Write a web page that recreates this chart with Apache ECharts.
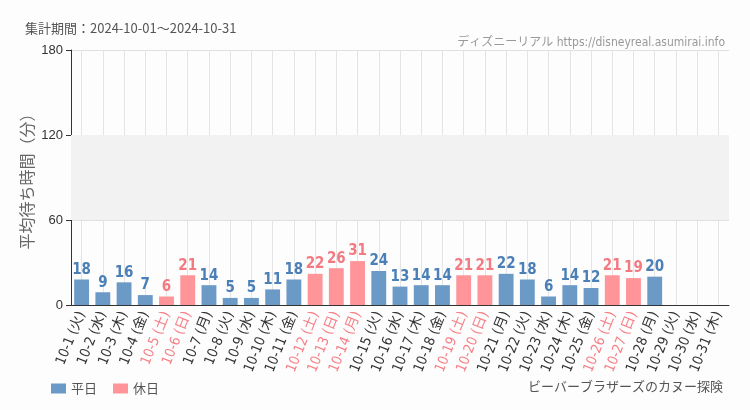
<!DOCTYPE html>
<html><head><meta charset="utf-8">
<script src="https://cdn.jsdelivr.net/npm/echarts@6/dist/echarts.min.js"></script>
<style>html,body{margin:0;padding:0;background:#fcfdfc}#c{width:750px;height:410px}</style>
</head><body><div id="c"></div>
<script>
const days = ["10-1","10-2","10-3","10-4","10-5","10-6","10-7","10-8","10-9","10-10","10-11","10-12","10-13","10-14","10-15","10-16","10-17","10-18","10-19","10-20","10-21","10-22","10-23","10-24","10-25","10-26","10-27","10-28","10-29","10-30","10-31"];
const weekdays = ["火","水","木","金","土","日","月","火","水","木","金","土","日","月","火","水","木","金","土","日","月","火","水","木","金","土","日","月","火","水","木"];
const holiday = [0,0,0,0,1,1,0,0,0,0,0,1,1,1,0,0,0,0,1,1,0,0,0,0,0,1,1,0,0,0,0];
const waits = [18,9,16,7,6,21,14,5,5,11,18,22,26,31,24,13,14,14,21,21,22,18,6,14,12,21,19,20,null,null,null];
const yTicks = [0,60,120,180];

const cats = days.map((d,i)=>d+' ('+weekdays[i]+')');
const wdData = waits.map((v,i)=>holiday[i]?null:v);
const hdData = waits.map((v,i)=>holiday[i]?v:null);
const narrow = '"DejaVu Sans Condensed", "Noto Sans CJK JP", sans-serif';

const chart = echarts.init(document.getElementById('c'));
chart.setOption({
  backgroundColor:'#fcfdfc',
  animation:false,
  title:[
    {text:'集計期間：2024-10-01～2024-10-31', left:20, top:17, textStyle:{fontSize:13, fontWeight:'normal', color:'#555', fontFamily:'"Noto Sans CJK JP", sans-serif'}},
    {text:'ディズニーリアル https://disneyreal.asumirai.info', right:20, top:32, textStyle:{fontSize:12, fontWeight:'normal', color:'#999', fontFamily:narrow}},
    {text:'ビーバーブラザーズのカヌー探険', right:22, top:376, textStyle:{fontSize:13, fontWeight:'normal', color:'#555', fontFamily:narrow}}
  ],
  legend:{left:46, top:377, itemWidth:15, itemHeight:10, itemGap:16, icon:'rect',
    textStyle:{fontSize:13, color:'#555', fontFamily:'"Noto Sans CJK JP", sans-serif'},
    data:['平日','休日']},
  grid:{left:71, right:21, top:50, bottom:105},
  xAxis:{type:'category', data:cats,
    axisLine:{lineStyle:{color:'#333'}},
    axisTick:{alignWithLabel:true, lineStyle:{color:'#333'}},
    splitLine:{show:true, alignWithLabel:true, lineStyle:{color:'#e4e4e4'}},
    axisLabel:{interval:0, rotate:68, fontSize:14, fontFamily:narrow, margin:7,
      formatter:(v,i)=> holiday[i] ? '{h|'+v+'}' : '{w|'+v+'}',
      rich:{w:{color:'#333', fontSize:14, fontFamily:narrow}, h:{color:'#f77f86', fontSize:14, fontFamily:narrow}}}
  },
  yAxis:{type:'value', min:0, max:180, interval:60,
    name:'平均待ち時間（分）', nameLocation:'middle', nameGap:36, nameMoveOverlap:false,
    nameTextStyle:{fontSize:16, color:'#666', fontFamily:'"Noto Sans CJK JP", sans-serif'},
    axisLine:{show:true, lineStyle:{color:'#333'}},
    axisTick:{show:true, lineStyle:{color:'#333'}},
    axisLabel:{fontSize:13, color:'#333', formatter:v=>yTicks.includes(v)?String(v):''},
    splitLine:{lineStyle:{color:'#e0e0e0'}}
  },
  series:[
    {name:'平日', type:'bar', data:wdData, barWidth:'70%', barGap:'-100%',
      itemStyle:{color:'#6c9ac7'},
      label:{show:true, position:'top', distance:2, color:'#4a7fb8', fontSize:15, fontWeight:'bold', fontFamily:narrow},
      markArea:{silent:true, itemStyle:{color:'#f2f2f2'}, data:[[{yAxis:60},{yAxis:120}]]}
    },
    {name:'休日', type:'bar', data:hdData, barWidth:'70%', barGap:'-100%',
      itemStyle:{color:'#ff9499'},
      label:{show:true, position:'top', distance:2, color:'#f47a82', fontSize:15, fontWeight:'bold', fontFamily:narrow}
    }
  ]
});
</script></body></html>
